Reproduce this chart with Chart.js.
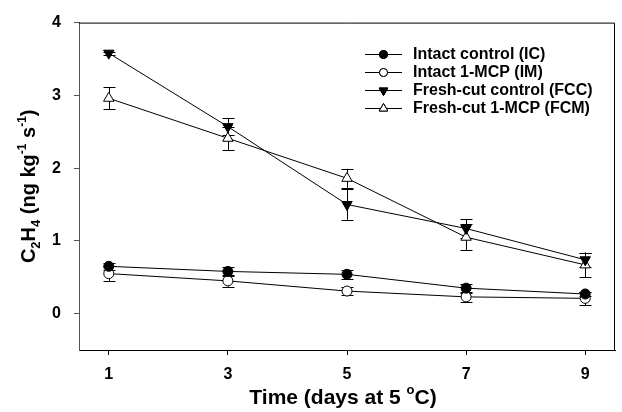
<!DOCTYPE html>
<html>
<head>
<meta charset="utf-8">
<script src="https://cdn.jsdelivr.net/npm/chart.js@4.4.1/dist/chart.umd.min.js"></script>
<style>
html,body{margin:0;padding:0;background:#fff;}
#wrap{width:622px;height:412px;position:relative;}
</style>
</head>
<body>
<div id="wrap"><canvas id="c" width="622" height="412"></canvas></div>
<script>
// ---- data ----
const days = [1, 3, 5, 7, 9];
const xTicks = [1, 3, 5, 7, 9];
const yTicks = [0, 1, 2, 3, 4];
const seriesNames = ['Intact control (IC)', 'Intact 1-MCP (IM)', 'Fresh-cut control (FCC)', 'Fresh-cut 1-MCP (FCM)'];
const icValues  = [0.65, 0.58, 0.54, 0.35, 0.27];
const icErrors  = [0.05, 0.06, 0.06, 0.06, 0.03];
const imValues  = [0.55, 0.45, 0.31, 0.23, 0.21];
const imErrors  = [0.10, 0.08, 0.05, 0.07, 0.09];
const fccValues = [3.58, 2.57, 1.50, 1.17, 0.74];
const fccErrors = [0.02, 0.12, 0.21, 0.13, 0.10];
const fcmValues = [2.96, 2.41, 1.86, 1.05, 0.67];
const fcmErrors = [0.15, 0.16, 0.13, 0.18, 0.17];

const FONT = '"Liberation Sans", Arial, sans-serif';

function mk(values, errors, i, style) {
  return Object.assign({
    label: seriesNames[i],
    data: days.map((d, k) => ({x: d, y: values[k]})),
    errors: errors,
    borderColor: '#000',
    borderWidth: 1,
    pointBorderColor: '#000',
    pointBorderWidth: 1,
    tension: 0,
    fill: false
  }, style);
}

const datasets = [
  mk(icValues, icErrors, 0, {pointStyle: 'circle', pointRadius: 5, backgroundColor: '#000', pointBackgroundColor: '#000'}),
  mk(imValues, imErrors, 1, {pointStyle: 'circle', pointRadius: 5, backgroundColor: '#fff', pointBackgroundColor: '#fff'}),
  mk(fccValues, fccErrors, 2, {pointStyle: 'triangle', pointRotation: 180, pointRadius: 6, backgroundColor: '#000', pointBackgroundColor: '#000'}),
  mk(fcmValues, fcmErrors, 3, {pointStyle: 'triangle', pointRadius: 6, backgroundColor: '#fff', pointBackgroundColor: '#fff'})
];

const errorBars = {
  id: 'errorBars',
  beforeDatasetsDraw(chart) {
    const ctx = chart.ctx, xs = chart.scales.x, ys = chart.scales.y;
    ctx.save();
    ctx.strokeStyle = '#000';
    ctx.lineWidth = 1;
    chart.data.datasets.forEach(ds => {
      ds.data.forEach((p, k) => {
        const e = ds.errors[k];
        const x = Math.round(xs.getPixelForValue(p.x)) + 0.5;
        const y1 = ys.getPixelForValue(p.y + e), y2 = ys.getPixelForValue(p.y - e);
        ctx.beginPath();
        ctx.moveTo(x, y1); ctx.lineTo(x, y2);
        ctx.moveTo(x - 6, Math.round(y1) + 0.5); ctx.lineTo(x + 6, Math.round(y1) + 0.5);
        ctx.moveTo(x - 6, Math.round(y2) + 0.5); ctx.lineTo(x + 6, Math.round(y2) + 0.5);
        ctx.stroke();
      });
    });
    ctx.restore();
  }
};

function drawRich(ctx, parts, x, y, base) {
  let total = 0;
  parts.forEach(p => { ctx.font = 'bold ' + (p.s || base) + 'px ' + FONT; total += ctx.measureText(p.t).width; });
  let cx = x - total / 2;
  ctx.textBaseline = 'alphabetic';
  ctx.textAlign = 'left';
  parts.forEach(p => {
    ctx.font = 'bold ' + (p.s || base) + 'px ' + FONT;
    ctx.fillText(p.t, cx, y + (p.dy || 0));
    cx += ctx.measureText(p.t).width;
  });
}

const decor = {
  id: 'decor',
  afterDraw(chart) {
    const ctx = chart.ctx, a = chart.chartArea;
    ctx.save();
    ctx.strokeStyle = '#000';
    ctx.lineWidth = 1;
    ctx.beginPath();
    ctx.moveTo(a.left, a.top + 0.5); ctx.lineTo(a.right - 0.5, a.top + 0.5); ctx.lineTo(a.right - 0.5, a.bottom);
    ctx.stroke();
    ctx.fillStyle = '#000';
    // x title
    drawRich(ctx, [
      {t: 'Time (days at 5 '},
      {t: 'o', s: 13, dy: -10},
      {t: 'C)'}
    ], (a.left + a.right) / 2 - 4, 404, 21);
    // y title
    ctx.save();
    ctx.translate(35, (a.top + a.bottom) / 2);
    ctx.rotate(-Math.PI / 2);
    drawRich(ctx, [
      {t: 'C'}, {t: '2', s: 13, dy: 5}, {t: 'H'}, {t: '4', s: 13, dy: 5},
      {t: ' (ng kg'}, {t: '-1', s: 12, dy: -9}, {t: ' s'}, {t: '-1', s: 12, dy: -9}, {t: ')'}
    ], 0, 0, 20);
    ctx.restore();
    // legend
    const lx0 = 365, lx1 = 402, tx = 413;
    let ly = 54;
    chart.data.datasets.forEach(ds => {
      ctx.strokeStyle = '#000';
      ctx.lineWidth = 1;
      ctx.beginPath();
      ctx.moveTo(lx0, ly + 0.5); ctx.lineTo(lx1, ly + 0.5); ctx.stroke();
      Chart.helpers.drawPoint(ctx, {
        pointStyle: ds.pointStyle, rotation: ds.pointRotation || 0,
        radius: ds.pointRadius - 1, borderWidth: 1
      }, (lx0 + lx1) / 2, ly + 0.5);
      ctx.fillStyle = ds.pointBackgroundColor;
      ctx.fill();
      ctx.stroke();
      ctx.fillStyle = '#000';
      ctx.font = 'bold 16px ' + FONT;
      ctx.textAlign = 'left';
      ctx.textBaseline = 'middle';
      ctx.fillText(ds.label, tx, ly + 1);
      ly += 18;
    });
    ctx.restore();
  }
};

new Chart(document.getElementById('c'), {
  type: 'line',
  data: {datasets},
  options: {
    responsive: false,
    animation: false,
    devicePixelRatio: 1,
    layout: {padding: {left: 0, right: 1, top: 19, bottom: 0}},
    plugins: {legend: {display: false}, tooltip: {enabled: false}},
    scales: {
      x: {
        type: 'linear', min: 0.5, max: 9.5,
        afterBuildTicks(s) { s.ticks = xTicks.map(v => ({value: v})); },
        afterFit(s) { s.height = 62; },
        grid: {drawOnChartArea: false, drawTicks: true, tickLength: 5, color: '#000'},
        border: {display: true, color: '#000', width: 1},
        ticks: {color: '#000', font: {family: FONT, size: 16, weight: 'bold'}, padding: 10, maxRotation: 0}
      },
      y: {
        type: 'linear', min: -0.5, max: 4,
        afterBuildTicks(s) { s.ticks = yTicks.map(v => ({value: v})); },
        afterFit(s) { s.width = 79; },
        grid: {drawOnChartArea: false, drawTicks: true, tickLength: 5, color: '#555'},
        border: {display: true, color: '#555', width: 1},
        ticks: {color: '#000', font: {family: FONT, size: 16, weight: 'bold'}, padding: 13}
      }
    }
  },
  plugins: [errorBars, decor]
});
</script>
</body>
</html>
